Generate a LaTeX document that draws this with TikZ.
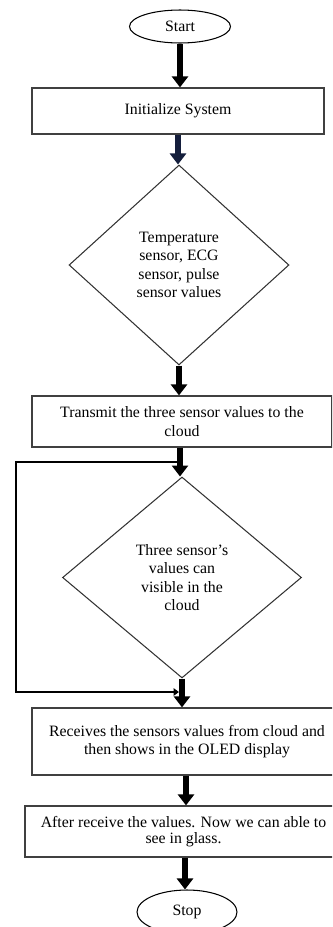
\documentclass[tikz,border=0pt]{standalone}
\usepackage{fontspec}
\setmainfont{Liberation Serif}
\usetikzlibrary{shapes.geometric,arrows.meta,calc}
\definecolor{arrownavy}{RGB}{20,30,60}
%
\tikzstyle{terminal}=[ellipse,draw=black,line width=0.6pt,inner sep=0pt]
\tikzstyle{process}=[rectangle,draw=black!75,line width=0.7pt,align=center,inner sep=0pt]
\tikzstyle{decision}=[diamond,draw=black!80,line width=0.6pt,align=center,inner sep=0pt]
\tikzstyle{flow}=[line width=3.1pt,-{Triangle[width=0.32cm,length=0.22cm]}]
\tikzstyle{loopline}=[line width=1.1pt,-{Triangle[width=0.15cm,length=0.11cm]}]

\begin{document}
\begin{tikzpicture}[x=0.02cm,y=-0.02cm,every node/.style={font=\fontsize{9}{10.5}\selectfont}]
\useasboundingbox (0,0) rectangle (332,927);
\clip (0,0) rectangle (332,927);
% boxes
\node[terminal,minimum width=2.02cm,minimum height=0.66cm] (start) at (180,26.5) {Start};
\node[process,minimum width=5.84cm,minimum height=0.92cm] (init) at (178,111) {Initialize System};
\node[decision,minimum width=4.4cm,minimum height=4cm] (sens) at (179,265)
  {Temperature\\sensor, ECG\\sensor, pulse\\sensor values};
\node[process,minimum width=6cm,minimum height=1.02cm] (trans) at (182,421.5)
  {Transmit the three sensor values to the\\cloud};
\node[decision,minimum width=4.78cm,minimum height=4.02cm] (vis) at (182,577.5)
  {Three sensor’s\\values can\\visible in the\\cloud};
\node[process,minimum width=6.2cm,minimum height=1.34cm] (recv) at (187,741.5)
  {Receives the sensors values from cloud and\\then shows in the OLED display};
\node[process,minimum width=6.34cm,minimum height=1.02cm] (after) at (183.5,831.5)
  {After receive the values. Now we can able to\\[-0.05cm]see in glass.};
\node[terminal,minimum width=2cm,minimum height=0.88cm] (stop) at (187,912) {Stop};
%
% arrows
\draw[flow] (start.south) -- (start.south |- init.north);
\draw[flow,arrownavy] (init.south) -- (init.south |- sens.north);
\draw[flow] (sens.south) -- (sens.south |- trans.north);
\draw[flow] ($(trans.south)+(-2,0)$) -- ($(trans.south |- vis.north)+(-2,0)$);
\draw[flow] (vis.south) -- (vis.south |- recv.north);
\draw[flow] ($(recv.south)+(-1,0)$) -- ($(recv.south |- after.north)+(-1,0)$);
\draw[flow] ($(stop.north |- after.south)+(-2,0)$) -- ($(stop.north)+(-2,0)$);
%
% loop back
\coordinate (tap) at (180,462);
\coordinate (loopleft) at (16,577);
\coordinate (loopin) at (179,692);
\draw[loopline] (tap) -| (loopleft) |- (loopin);
\end{tikzpicture}
\end{document}
